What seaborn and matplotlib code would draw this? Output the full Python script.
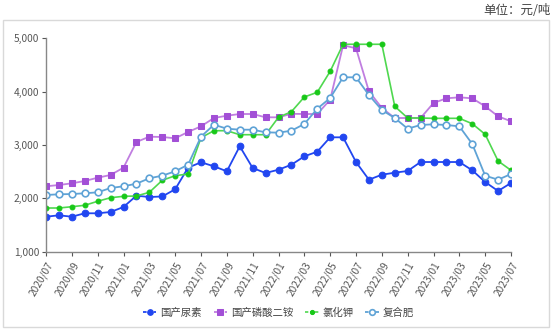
import matplotlib
matplotlib.use("Agg")
import matplotlib.pyplot as plt
import seaborn as sns
import pandas as pd
from matplotlib.patches import Rectangle

months = ["2020/07", "2020/08", "2020/09", "2020/10", "2020/11", "2020/12",
          "2021/01", "2021/02", "2021/03", "2021/04", "2021/05", "2021/06",
          "2021/07", "2021/08", "2021/09", "2021/10", "2021/11", "2021/12",
          "2022/01", "2022/02", "2022/03", "2022/04", "2022/05", "2022/06",
          "2022/07", "2022/08", "2022/09", "2022/10", "2022/11", "2022/12",
          "2023/01", "2023/02", "2023/03", "2023/04", "2023/05", "2023/06",
          "2023/07"]

urea = [1656, 1682, 1656, 1720, 1720, 1744, 1838, 2050, 2025, 2035,
        2170, 2575, 2676, 2601, 2507, 2976, 2569, 2475, 2537, 2630,
        2788, 2874, 3144, 3144, 2681, 2350, 2443, 2481, 2513, 2681,
        2681, 2681, 2681, 2526, 2306, 2138, 2288]
dap = [2226, 2250, 2282, 2325, 2387, 2438, 2575, 3056, 3156, 3150,
       3126, 3244, 3350, 3506, 3549, 3581, 3581, 3519, 3519, 3585,
       3581, 3581, 3849, 4869, 4813, 4007, 3694, 3506, 3506, 3506,
       3787, 3875, 3894, 3875, 3725, 3538, 3444]
potash = [1819, 1819, 1843, 1870, 1945, 2012, 2038, 2044, 2113, 2338,
          2425, 2456, 3137, 3268, 3268, 3193, 3193, 3193, 3520, 3624,
          3900, 3988, 4381, 4888, 4888, 4888, 4888, 3725, 3506, 3506,
          3500, 3500, 3500, 3399, 3200, 2700, 2526]
compound = [2063, 2076, 2081, 2095, 2113, 2194, 2226, 2275, 2376, 2425,
            2507, 2631, 3156, 3380, 3306, 3287, 3287, 3238, 3231, 3268,
            3394, 3680, 3881, 4269, 4269, 3937, 3656, 3506, 3306, 3375,
            3388, 3375, 3350, 3019, 2425, 2350, 2456]

names = ["国产尿素", "国产磷酸二铵", "氯化钾", "复合肥"]
series = [urea, dap, potash, compound]

sns.set_theme(style="white")
plt.rcParams['font.family'] = ['Noto Sans CJK SC', 'DejaVu Sans']

fig = plt.figure(figsize=(5.54, 3.30), dpi=100)
ax = fig.add_axes([46 / 554, 1 - 251.7 / 330, (511 - 46) / 554, (251.7 - 38.3) / 330])

# outer frame
fig.patches.append(Rectangle((3 / 554, 3 / 330), 546 / 554, 307 / 330,
                             transform=fig.transFigure, fill=False,
                             edgecolor="#d9d9d9", linewidth=1.0))
fig.text(551 / 554, 1 - 11 / 330, "单位：元/吨", ha="right", va="center",
         fontsize=9, color="#444444")

styles = [
    dict(color="#2146f0", marker="o", markersize=4.8, mfc="#2146f0", mec="#2146f0", lw=1.3),
    dict(color="#c07ee0", marker="s", markersize=4.8, mfc="#a24fd6", mec="#a24fd6", lw=1.3),
    dict(color="#4fd84f", marker="o", markersize=3.5, mfc="#18c818", mec="#18c818", lw=1.2),
    dict(color="#5fa3d6", marker="o", markersize=4.8, mfc="white", mec="#5fa3d6", mew=1.2, lw=1.3),
]

x = list(range(len(months)))
for name, vals, st in zip(names, series, styles):
    df = pd.DataFrame({"x": x, "y": vals})
    sns.lineplot(data=df, x="x", y="y", ax=ax, label=name, **st)

ax.set_xlim(0, len(months) - 1)
ax.set_ylim(1000, 5000)
ax.set_yticks([1000, 2000, 3000, 4000, 5000])
ax.set_yticklabels(["1,000", "2,000", "3,000", "4,000", "5,000"])
ax.set_xticks(x[::2])
ax.set_xticklabels(months[::2], rotation=60, ha="right", rotation_mode="anchor")
ax.tick_params(axis="both", labelsize=7.3, colors="#555555", length=3,
               width=0.8, direction="out", bottom=True, left=True, pad=2)
ax.tick_params(axis="x", pad=3)
ax.set_xlabel("")
ax.set_ylabel("")
for s in ["top", "right"]:
    ax.spines[s].set_visible(False)
for s in ["left", "bottom"]:
    ax.spines[s].set_color("#888888")
    ax.spines[s].set_linewidth(1.0)

leg = ax.legend(loc="center", bbox_to_anchor=(0.5, (330 - 313 - (330 - 251.7)) / (251.7 - 38.3)),
                bbox_transform=ax.transAxes, ncol=4, frameon=False, fontsize=7.5,
                handlelength=1.3, handletextpad=0.4, columnspacing=1.1, markerscale=0.85)
for t in leg.get_texts():
    t.set_color("#444444")
for h in leg.get_lines():
    h.set_linestyle((0, (2, 1)))

fig.savefig("out.png", dpi=100)
